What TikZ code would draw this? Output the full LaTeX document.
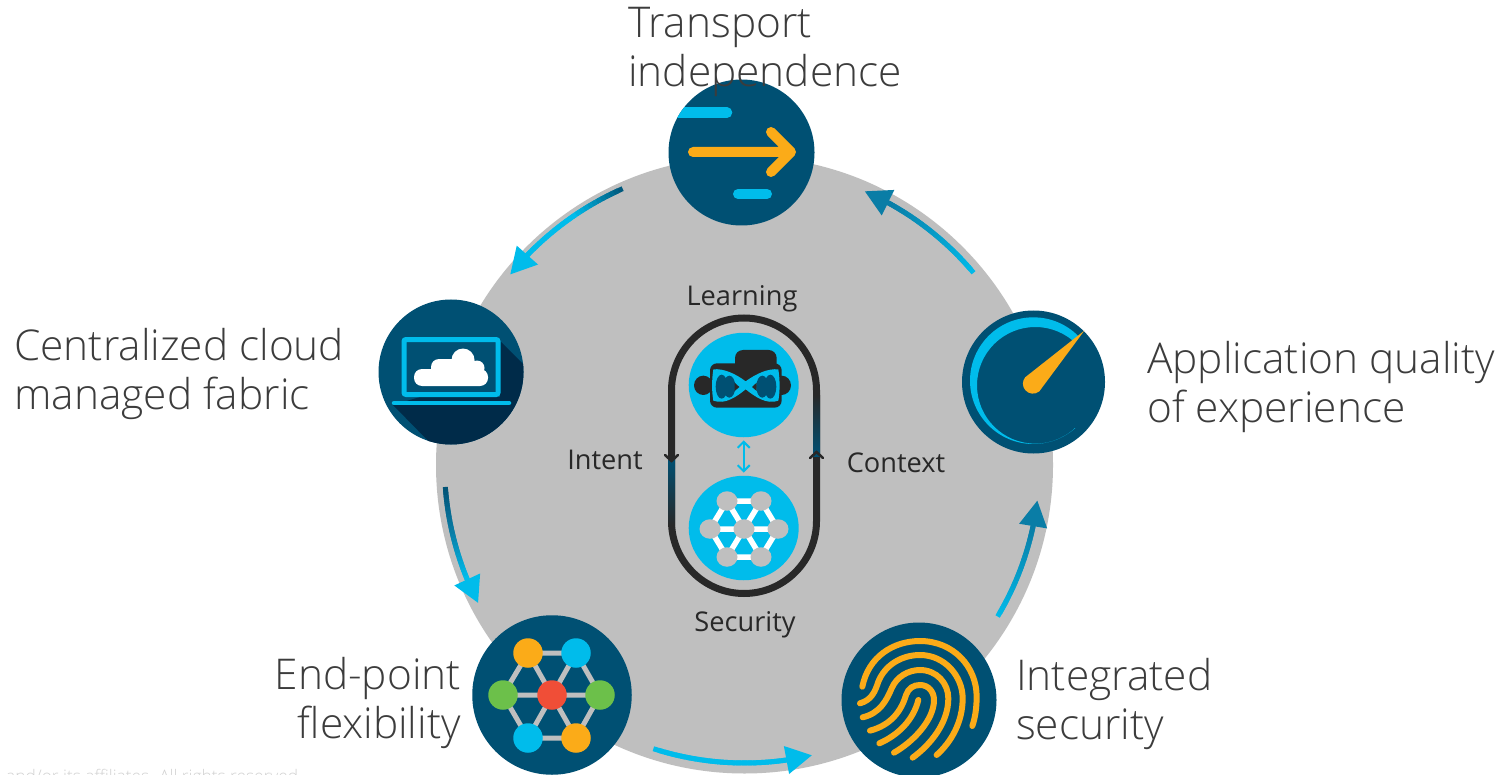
\documentclass[tikz,border=0pt]{standalone}
\usepackage{fontspec}
\setmainfont{Open Sans Light}
\newfontfamily\innerfont{Open Sans}
\usetikzlibrary{arrows.meta,calc,shapes.geometric}
\definecolor{navy}{HTML}{005073}
\definecolor{deepnavy}{HTML}{002B49}
\definecolor{sky}{HTML}{00BCEB}
\definecolor{teal}{HTML}{0A7DA6}
\definecolor{amber}{HTML}{FBAB18}
\definecolor{leaf}{HTML}{6CC04A}
\definecolor{tomato}{HTML}{F04E37}
\definecolor{hubgray}{HTML}{BFBFBF}
\definecolor{ink}{HTML}{282828}
\definecolor{labelink}{HTML}{3C3C3C}
\newcommand{\gradarc}[8]{% name, r, a1, a2, tail colour, mid colour, head colour, tipdelta
  \coordinate (#1s) at ({744.5+#2*cos(#3)},{465+#2*sin(#3)});
  \coordinate (#1e) at ({744.5+#2*cos(#4)},{465+#2*sin(#4)});
  \pgfmathsetmacro{\aneck}{#4+#8}
  \coordinate (#1n) at ({744.5+#2*cos(\aneck)},{465+#2*sin(\aneck)});
  \foreach \i in {1,...,24}{
    \pgfmathsetmacro{\ta}{#3+(\aneck-(#3))*(\i-1)/24}
    \pgfmathsetmacro{\tb}{#3+(\aneck-(#3))*(\i+0.9)/24}
    \pgfmathtruncatemacro{\pct}{min(100,\i*100/12)}
    \pgfmathtruncatemacro{\pctb}{max(0,(\i-12)*100/12)}
    \ifnum\i>12 \colorlet{segc}{#7!\pctb!#6}\else\colorlet{segc}{#6!\pct!#5}\fi
    \draw[line width=5pt,segc] ({744.5+#2*cos(\ta)},{465+#2*sin(\ta)}) arc[start angle=\ta,end angle=\tb,radius=#2];
  }
  \draw[line width=5pt,#7,-{Triangle[length=26pt,width=27pt]}] (#1n) -- (#1e);
}
\tikzset{
  x=1pt,y=-1pt,
  icon/.style={circle,inner sep=0pt,fill=navy,draw=none},
  label/.style={inner sep=0pt,text=labelink,font=\fontsize{42.4}{49}\selectfont},
  inner label/.style={inner sep=0pt,text=ink,font=\innerfont\fontsize{27.2}{30}\selectfont},
  disc/.style={ellipse,inner sep=0pt,minimum width=110pt,minimum height=104.5pt,fill=sky},
  dot/.style={ellipse,inner sep=0pt,minimum width=21pt,minimum height=19.5pt,fill=hubgray},
  blob/.style={circle,inner sep=0pt,minimum size=29.5pt},
  meshlink/.style={white,line width=5.5pt},
  netlink/.style={hubgray,line width=5pt},
  ridge/.style={amber,line width=6pt,line cap=round},
}
\begin{document}
\begin{tikzpicture}
\useasboundingbox (0,0) rectangle (1503,775);
\begin{scope}
\clip (0,0) rectangle (1503,775);
\fill[white] (0,0) rectangle (1503,775);
\node[circle,inner sep=0pt,minimum size=617pt,fill=hubgray] (hub) at (744.5,465) {};
\node[anchor=base west,inner sep=0pt,text=hubgray!70,font=\fontsize{17.3}{19}\selectfont] (footer) at (6,782) {and/or its affiliates. All rights reserved.};

% Connectors
\gradarc{ta}{302}{-113.8}{-140.9}{navy}{sky}{sky}{5}
\gradarc{tb}{299}{-40}{-66.3}{sky}{sky!50!teal}{teal}{5}
\gradarc{tc}{295}{30.9}{6.9}{sky}{sky!50!teal}{teal}{5}
\gradarc{td}{298}{107.8}{76.9}{sky}{sky}{sky}{5}
\gradarc{te}{300}{175.8}{152.6}{navy}{teal}{sky}{5}

% Transport icon
\node[icon,minimum size=146pt] (transport) at (741.5,152.5) {};
\begin{scope}
\clip (741.5,152.5) circle[radius=73];
\draw[sky,line width=10.5pt,line cap=round] (660,112.7) -- (727,112.7);
\end{scope}
\coordinate (thead) at (791,152);
\draw[sky,line width=10pt,line cap=round] (738,194) -- (767,194);
\draw[amber,line width=10pt,line cap=round,line join=round] (693,152) -- (thead) (771,132) -- (thead) -- (771,172);

% Cloud icon
\node[icon,minimum size=145pt] (cloud) at (451,372) {};
\begin{scope}
\clip (451,372) circle[radius=72.5];
\fill[deepnavy] (500,341) -- (620,461) -- (493,507) -- (393,405) -- (420,397) -- (500,397) -- cycle;
\end{scope}
\draw[sky,line width=5pt,rounded corners=2pt] (404,339.5) rectangle (498,394.5);
\draw[sky,line width=4.5pt,line cap=round] (394,403) -- (509,403);
\fill[white,rounded corners=8pt] (414,369) rectangle (488,386);
\fill[white,rounded corners=8pt] (431,359) rectangle (475,380);
\fill[white] (463,360) circle[radius=11.5] (477,368) circle[radius=7.5];

% End-point icon
\node[icon,minimum size=159.5pt] (endpoint) at (552,695) {};
\coordinate (ep1) at (528,653);\coordinate (ep2) at (576,653);\coordinate (ep3) at (503,695);
\coordinate (ep4) at (552,695);\coordinate (ep5) at (600,695);\coordinate (ep6) at (528,738);\coordinate (ep7) at (576,738);
\draw[netlink] (ep1)--(ep2)--(ep5)--(ep7)--(ep6)--(ep3)--cycle (ep1)--(ep7) (ep2)--(ep6) (ep3)--(ep5);
\node[blob,fill=amber] (n1) at (ep1) {};\node[blob,fill=sky] (n2) at (ep2) {};\node[blob,fill=leaf] (n3) at (ep3) {};
\node[blob,fill=tomato] (n4) at (ep4) {};\node[blob,fill=leaf] (n5) at (ep5) {};\node[blob,fill=sky] (n6) at (ep6) {};\node[blob,fill=amber] (n7) at (ep7) {};

% Fingerprint icon
\node[icon,minimum size=155pt] (print) at (919,700) {};
\begin{scope}[shift={(830,610)},scale=0.3333]
\draw[ridge] (97,230) .. controls (115,140) and (190,93) .. (270,93) .. controls (370,93) and (440,170) .. (440,260) .. controls (440,295) and (435,325) .. (427,348);
\draw[ridge] (90,280) .. controls (125,270) and (135,245) .. (145,215) .. controls (165,165) and (215,135) .. (270,135) .. controls (345,135) and (398,200) .. (398,265) .. controls (398,335) and (365,395) .. (320,435);
\draw[ridge] (98,322) .. controls (150,310) and (170,270) .. (185,235) .. controls (200,200) and (235,180) .. (270,180) .. controls (320,180) and (355,220) .. (355,265) .. controls (355,340) and (300,405) .. (248,443);
\draw[ridge] (120,362) .. controls (185,345) and (215,300) .. (228,255) .. controls (235,235) and (250,225) .. (270,225) .. controls (295,225) and (312,245) .. (312,270) .. controls (312,330) and (250,395) .. (192,428);
\draw[ridge] (148,400) .. controls (205,375) and (250,330) .. (265,270);
\end{scope}

% Gauge icon
\node[icon,minimum size=143pt] (gauge) at (1033.5,382) {};
\begin{scope}[shift={(950,300)},scale=0.3333]
\begin{scope}
\clip (250,245) -- (560,-65) -- (-200,-200) -- (-200,700) -- (510,534) -- cycle;
\fill[sky,even odd rule] (250,242) circle[radius=190] (256,256) circle[radius=175];
\end{scope}
\fill[amber] (403,92) -- (268,274) arc[start angle=50,end angle=220,radius=30] -- cycle;
\end{scope}

% Central loop
\node[disc] (learn) at (743.7,385) {};
\node[disc] (mesh) at (743.7,528) {};
\draw[ink,line width=7pt,rounded corners=72.5pt] (671.5,318) rectangle (816.5,593.5);
\shade[top color=ink,bottom color=navy] (813,395) rectangle (820,456);
\shade[top color=navy,bottom color=ink] (668,459) rectangle (675,525);
\coordinate (lhead) at (671.5,461);
\coordinate (rhead) at (816.5,452);
\draw[ink,line width=2.5pt,line cap=round] (665,455) -- (lhead) -- (678,455);
\draw[ink,line width=2.5pt,line cap=round] (810,458) -- (rhead) -- (823,458);
\draw[sky,line width=2pt,{Straight Barb[length=6pt,width=12pt]}-{Straight Barb[length=6pt,width=12pt]}] (learn.south) ++(0,3) -- ($(mesh.north)+(0,-3)$);

% Learning glyph
\begin{scope}[shift={(685,340)},scale=0.3333]
\fill[ink,rounded corners=8pt] (150,30) rectangle (275,100);
\fill[ink,rounded corners=7pt] (75,70) rectangle (290,203);
\fill[ink] (55,136) ellipse[x radius=28,y radius=29] (290,136) ellipse[x radius=28,y radius=29];
\fill[sky] (182,124) .. controls (150,100) and (115,85) .. (85,88) .. controls (80,120) and (80,155) .. (85,182) .. controls (120,195) and (155,170) .. (182,148) .. controls (210,170) and (245,195) .. (280,182) .. controls (285,155) and (285,120) .. (280,88) .. controls (250,85) and (215,100) .. (182,124) -- cycle;
\fill[navy] (110,140) ellipse[x radius=18,y radius=36] (133,140) ellipse[x radius=18,y radius=33];
\fill[navy] (232,140) ellipse[x radius=18,y radius=33] (256,140) ellipse[x radius=18,y radius=36];
\fill[ink] (149,128) -- (163,141) -- (149,153) -- cycle (215,128) -- (201,141) -- (215,153) -- cycle;
\end{scope}

% Mesh glyph
\coordinate (m1) at (727,501);\coordinate (m2) at (761,501);\coordinate (m3) at (710,529);\coordinate (m4) at (744,529);
\coordinate (m5) at (778,529);\coordinate (m6) at (727,557);\coordinate (m7) at (761,557);
\draw[meshlink] (m1)--(m2)--(m5)--(m7)--(m6)--(m3)--cycle (m1)--(m7) (m2)--(m6) (m3)--(m5);
\foreach \k in {1,...,7}{\node[dot] (dot\k) at (m\k) {};}

% Labels
\node[label,anchor=north west,align=left] (ltransport) at (628,7) {Transport\\independence};
\node[label,anchor=north west,align=left] (lcloud) at (14,328) {Centralized cloud\\managed fabric};
\node[label,anchor=north west,align=left] (lapp) at (1147,341) {Application quality\\of experience};
\node[label,anchor=north west,align=left] (lsec) at (1016,658) {Integrated\\security};
\node[label,anchor=north east,align=right] (lend) at (461,657) {End-point\\flexibility};
\node[inner label] (llearn) at (742,299) {Learning};
\node[inner label] (lsecur) at (745,625) {Security};
\node[inner label] (lintent) at (605,460) {Intent};
\node[inner label] (lcontext) at (896,463) {Context};
\end{scope}
\end{tikzpicture}
\end{document}
